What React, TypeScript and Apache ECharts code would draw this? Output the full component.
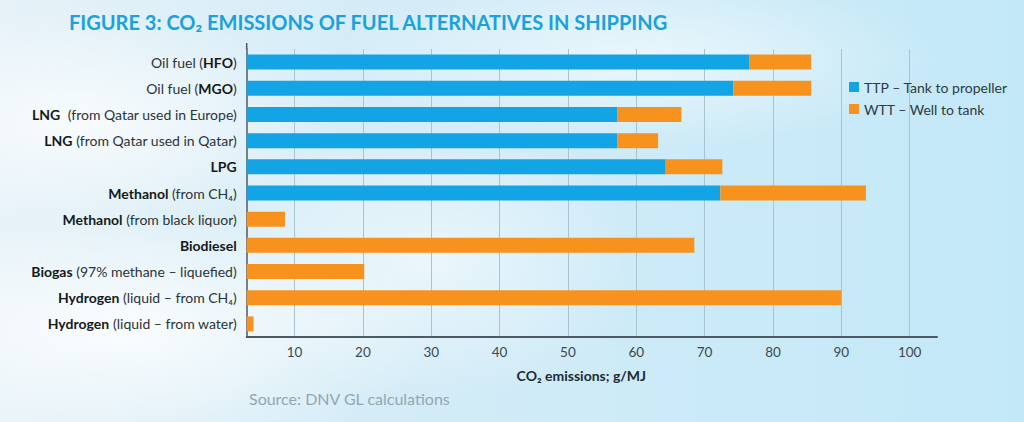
import React, { useEffect, useRef } from "react";
import * as echarts from "echarts";

// Label segments: "b" = bold, "r" = regular
const labelParts: [string, string][][] = [
  [["r", "Oil fuel ("], ["b", "HFO"], ["r", ")"]],
  [["r", "Oil fuel ("], ["b", "MGO"], ["r", ")"]],
  [["b", "LNG"], ["r", "  (from Qatar used in Europe)"]],
  [["b", "LNG"], ["r", " (from Qatar used in Qatar)"]],
  [["b", "LPG"]],
  [["b", "Methanol"], ["r", " (from CH₄)"]],
  [["b", "Methanol"], ["r", " (from black liquor)"]],
  [["b", "Biodiesel"]],
  [["b", "Biogas"], ["r", " (97% methane – liquefied)"]],
  [["b", "Hydrogen"], ["r", " (liquid – from CH₄)"]],
  [["b", "Hydrogen"], ["r", " (liquid – from water)"]],
];
const categories = labelParts.map((p) => p.map((s) => s[1]).join(""));

const ttpValues = [76.5, 74.2, 57.2, 57.2, 64.3, 72.3, 0, 0, 0, 0, 0];
const wttValues = [9.1, 11.4, 9.4, 6.0, 8.3, 21.3, 8.6, 68.5, 20.2, 90.0, 4.0];

const tickValues = [10, 20, 30, 40, 50, 60, 70, 80, 90, 100];
const seriesNames = ["TTP – Tank to propeller", "WTT – Well to tank"];

const FONT = "Lato, 'Noto Sans', sans-serif";

export default function App() {
  const ref = useRef<HTMLDivElement>(null);
  useEffect(() => {
    if (!ref.current) return;
    const chart = echarts.init(ref.current, null, { renderer: "svg" });
    const labelRich = (idx: number) =>
      labelParts[idx].map((s) => `{${s[0]}|${s[1]}}`).join("");
    chart.setOption({
      animation: false,
      backgroundColor: "transparent",
      textStyle: { fontFamily: FONT },
      title: {
        text: "FIGURE 3: CO₂ EMISSIONS OF FUEL ALTERNATIVES IN SHIPPING",
        left: 64,
        top: 7,
        textStyle: {
          fontFamily: FONT,
          fontSize: 20,
          fontWeight: "bold",
          color: "#1ba1db",
        },
      },
      legend: {
        orient: "vertical",
        left: 844,
        top: 75,
        icon: "rect",
        itemWidth: 10,
        itemHeight: 10,
        itemGap: 8,
        data: seriesNames,
        textStyle: { fontFamily: FONT, fontSize: 14, color: "#2e3a42" },
      },
      grid: { left: 246.7, right: 87, top: 49, bottom: 85, containLabel: false },
      xAxis: {
        type: "value",
        min: 3,
        max: 104,
        name: "CO₂ emissions; g/MJ",
        nameLocation: "middle",
        nameGap: 31,
        nameTextStyle: {
          fontFamily: FONT,
          fontSize: 14,
          fontWeight: "bold",
          color: "#1e2a32",
          padding: [0, 21, 0, 0],
        },
        axisLine: { show: true, lineStyle: { color: "#4d5a63", width: 2 } },
        axisTick: { show: false, customValues: tickValues },
        axisLabel: {
          customValues: tickValues,
          fontFamily: FONT,
          fontSize: 13.5,
          color: "#3c4850",
          margin: 8,
        },
        splitLine: { show: true, lineStyle: { color: "#a8c4d3", width: 1 } },
      },
      yAxis: {
        type: "category",
        inverse: true,
        data: categories,
        axisLine: { show: true, lineStyle: { color: "#4d5a63", width: 1.5 } },
        axisTick: { show: false },
        axisLabel: {
          margin: 10,
          formatter: (_v: string, idx: number) => labelRich(idx),
          rich: {
            r: { fontFamily: FONT, fontSize: 14, color: "#2b3339" },
            b: { fontFamily: FONT, fontSize: 14, fontWeight: "bold", color: "#15191c" },
          },
        },
      },
      graphic: [
        {
          type: "line",
          shape: { x1: 246.7, y1: 43, x2: 246.7, y2: 49 },
          style: { stroke: "#4d5a63", lineWidth: 1.5 },
        },
        {
          type: "text",
          left: 249,
          top: 390,
          style: {
            text: "Source: DNV GL calculations",
            fontFamily: FONT,
            fontSize: 16,
            fill: "#93a7b3",
          },
        },
      ],
      series: [
        {
          name: seriesNames[0],
          type: "bar",
          stack: "total",
          barWidth: 15,
          data: ttpValues,
          itemStyle: { color: "#12a4e4" },
        },
        {
          name: seriesNames[1],
          type: "bar",
          stack: "total",
          barWidth: 15,
          data: wttValues,
          itemStyle: { color: "#f7921e" },
        },
      ],
    });
    return () => chart.dispose();
  }, []);
  return (
    <div
      ref={ref}
      style={{
        position: "fixed",
        left: 0,
        top: 0,
        width: 1024,
        height: 422,
        background:
          "radial-gradient(ellipse 320px 120px at 120px 330px, rgba(255,255,255,0.85), rgba(255,255,255,0) 100%)," +
          "radial-gradient(ellipse 260px 110px at 80px 120px, rgba(255,255,255,0.75), rgba(255,255,255,0) 100%)," +
          "radial-gradient(ellipse 220px 140px at 430px 260px, rgba(255,255,255,0.55), rgba(255,255,255,0) 100%)," +
          "radial-gradient(ellipse 300px 90px at 640px 60px, rgba(255,255,255,0.6), rgba(255,255,255,0) 100%)," +
          "linear-gradient(to right, #e6f2f8 0%, #d3ecf7 40%, #c3e8f8 100%)",
      }}
    />
  );
}
